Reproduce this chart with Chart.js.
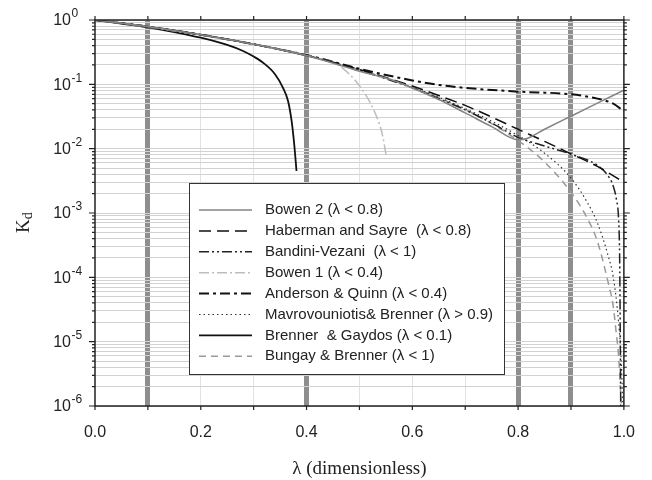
<!DOCTYPE html>
<html>
<head>
<meta charset="utf-8">
<script src="https://cdn.jsdelivr.net/npm/chart.js@4"></script>
<style>
  html, body { margin: 0; padding: 0; background: #fff; }
  #wrap { width: 652px; height: 480px; }
</style>
</head>
<body>
<div id="wrap"><canvas id="kdChart" width="652" height="480"></canvas></div>
<script>
// values (lambda, Kd)
const bowen2X = [0, 0.1, 0.2, 0.3, 0.4, 0.5, 0.55, 0.6, 0.65, 0.7, 0.75, 0.8, 0.815, 0.85, 0.9, 0.95, 1.0];
const bowen2Y = [1, 0.79, 0.59, 0.42, 0.28, 0.16, 0.125, 0.088, 0.058, 0.036, 0.022, 0.0138, 0.0142, 0.02, 0.032, 0.051, 0.081];

const habermanX = [0, 0.1, 0.2, 0.3, 0.4, 0.5, 0.6, 0.65, 0.7, 0.75, 0.8, 0.85, 0.9, 0.95, 1.0];
const habermanY = [1, 0.79, 0.59, 0.42, 0.28, 0.17, 0.094, 0.067, 0.047, 0.031, 0.02, 0.013, 0.0083, 0.0053, 0.003];

const bandiniX = [0, 0.1, 0.2, 0.3, 0.4, 0.5, 0.6, 0.65, 0.7, 0.75, 0.8, 0.85, 0.9, 0.95, 0.97, 0.98, 0.986, 0.99, 0.992, 0.993, 0.994];
const bandiniY = [1, 0.79, 0.59, 0.42, 0.28, 0.165, 0.088, 0.06, 0.04, 0.025, 0.015, 0.011, 0.0082, 0.0055, 0.0038, 0.0026, 0.0016, 0.0008, 0.0002, 0.00002, 0.000001];

const bowen1X = [0, 0.1, 0.2, 0.3, 0.4, 0.43, 0.46, 0.5, 0.527, 0.543, 0.551];
const bowen1Y = [1, 0.78, 0.58, 0.42, 0.285, 0.245, 0.2, 0.095, 0.04, 0.017, 0.0075];

const andersonX = [0, 0.1, 0.2, 0.3, 0.4, 0.5, 0.55, 0.6, 0.65, 0.7, 0.8, 0.9, 0.95, 0.98, 1.0];
const andersonY = [1, 0.79, 0.59, 0.42, 0.285, 0.175, 0.14, 0.115, 0.098, 0.088, 0.077, 0.07, 0.06, 0.05, 0.038];

const mavroX = [0, 0.1, 0.2, 0.3, 0.4, 0.5, 0.6, 0.7, 0.8, 0.85, 0.9, 0.93, 0.95, 0.97, 0.98, 0.99, 0.995, 0.998];
const mavroY = [1, 0.79, 0.595, 0.42, 0.28, 0.168, 0.09, 0.042, 0.016, 0.0085, 0.0035, 0.0015, 0.0007, 0.00022, 0.0001, 0.00002, 0.000005, 0.000001];

const brennerX = [0, 0.05, 0.1, 0.15, 0.2, 0.25, 0.28, 0.3, 0.32, 0.34, 0.355, 0.365, 0.372, 0.377, 0.381];
const brennerY = [1, 0.88, 0.77, 0.65, 0.53, 0.41, 0.33, 0.27, 0.21, 0.145, 0.09, 0.055, 0.026, 0.011, 0.0045];

const bungayX = [0, 0.05, 0.1, 0.2, 0.3, 0.4, 0.5, 0.6, 0.7, 0.75, 0.8, 0.85, 0.9, 0.93, 0.95, 0.97, 0.98, 0.985, 0.99, 0.995];
const bungayY = [1, 0.89, 0.79, 0.595, 0.42, 0.278, 0.168, 0.09, 0.0405, 0.0245, 0.0134, 0.0062, 0.0021, 0.00085, 0.00036, 0.000085, 0.000035, 0.000015, 0.000006, 0.0000011];

const xTickLabels = ["0.0", "0.2", "0.4", "0.6", "0.8", "1.0"];
const yExponents = [0, -1, -2, -3, -4, -5, -6];
const thickLines = [0.1, 0.4, 0.8, 0.9];

function pts(xs, ys) {
  return xs.map((x, i) => ({ x: x, y: ys[i] }));
}

function series(label, xs, ys, color, width, dash) {
  return {
    label: label,
    data: pts(xs, ys),
    borderColor: color,
    borderWidth: width,
    borderDash: dash,
    pointRadius: 0,
    fill: false,
    cubicInterpolationMode: "monotone",
  };
}

const SANS = "'Liberation Sans', Arial, sans-serif";
const SERIF = "'Liberation Serif', 'Times New Roman', serif";

// legend box, axis labels with superscripts, tick marks, frame
const decorPlugin = {
  id: "decor",
  afterDraw(chart) {
    const ctx = chart.ctx;
    const area = chart.chartArea;
    const xs = chart.scales.x;
    const ys = chart.scales.y;
    ctx.save();

    // frame
    ctx.strokeStyle = "#222";
    ctx.lineWidth = 1.5;
    ctx.strokeRect(area.left, area.top, area.right - area.left, area.bottom - area.top);

    // x tick marks (bottom + top)
    ctx.lineWidth = 1.2;
    for (let i = 0; i <= 10; i++) {
      const px = xs.getPixelForValue(i / 10);
      ctx.beginPath();
      ctx.moveTo(px, area.bottom);
      ctx.lineTo(px, area.bottom + 4);
      ctx.moveTo(px, area.top);
      ctx.lineTo(px, area.top - 4);
      ctx.stroke();
    }

    // y tick marks (left + right)
    for (let k = -6; k <= 0; k++) {
      for (let m = 1; m <= 9; m++) {
        const v = m * Math.pow(10, k);
        if (v > 1) break;
        const py = ys.getPixelForValue(v);
        const len = m === 1 ? 6 : 3;
        ctx.beginPath();
        ctx.moveTo(area.left, py);
        ctx.lineTo(area.left - len, py);
        ctx.moveTo(area.right, py);
        ctx.lineTo(area.right + len, py);
        ctx.stroke();
      }
    }

    // y tick labels 10^n
    ctx.fillStyle = "#222";
    yExponents.forEach((e) => {
      const py = ys.getPixelForValue(Math.pow(10, e));
      ctx.font = "16px " + SANS;
      ctx.textAlign = "right";
      ctx.textBaseline = "middle";
      ctx.fillText("10", 71, py + 1);
      ctx.font = "12px " + SANS;
      ctx.textAlign = "left";
      ctx.fillText(String(e), 71.5, py - 6);
    });

    // axis titles
    ctx.font = "19px " + SERIF;
    ctx.textAlign = "center";
    ctx.textBaseline = "middle";
    ctx.fillText("\u03bb (dimensionless)", (area.left + area.right) / 2, 469);

    ctx.save();
    ctx.translate(22, 233);
    ctx.rotate(-Math.PI / 2);
    ctx.textAlign = "left";
    ctx.textBaseline = "alphabetic";
    ctx.font = "19px " + SERIF;
    ctx.fillText("K", 0, 7);
    const kw = ctx.measureText("K").width;
    ctx.font = "14px " + SERIF;
    ctx.fillText("d", kw, 10);
    ctx.restore();

    // legend box
    const bx = 189, by = 183, bw = 315, bh = 191;
    ctx.fillStyle = "#fff";
    ctx.fillRect(bx, by, bw, bh);
    ctx.strokeStyle = "#333";
    ctx.lineWidth = 1;
    ctx.strokeRect(bx + 0.5, by + 0.5, bw, bh);

    chart.data.datasets.forEach((ds, i) => {
      const ly = 210 + i * 20.9;
      ctx.strokeStyle = ds.borderColor;
      ctx.lineWidth = ds.borderWidth;
      ctx.setLineDash(ds.borderDash || []);
      ctx.beginPath();
      ctx.moveTo(199, ly);
      ctx.lineTo(252, ly);
      ctx.stroke();
      ctx.setLineDash([]);
      ctx.fillStyle = "#222";
      ctx.font = "15px " + SANS;
      ctx.textAlign = "left";
      ctx.textBaseline = "middle";
      ctx.fillText(ds.label, 265, ly);
    });

    ctx.restore();
  },
};

new Chart(document.getElementById("kdChart"), {
  type: "line",
  data: {
    datasets: [
      series("Bowen 2 (\u03bb < 0.8)", bowen2X, bowen2Y, "#858585", 1.6, []),
      series("Haberman and Sayre  (\u03bb < 0.8)", habermanX, habermanY, "#111", 1.5, [12, 6]),
      series("Bandini-Vezani  (\u03bb < 1)", bandiniX, bandiniY, "#222", 1.5, [10, 3, 2, 3, 2, 3]),
      series("Bowen 1 (\u03bb < 0.4)", bowen1X, bowen1Y, "#bdbdbd", 1.5, [10, 3, 2, 3]),
      series("Anderson & Quinn (\u03bb < 0.4)", andersonX, andersonY, "#111", 2, [10, 4, 3, 4]),
      series("Mavrovouniotis& Brenner (\u03bb > 0.9)", mavroX, mavroY, "#333", 1.2, [1.5, 3]),
      series("Brenner  & Gaydos (\u03bb < 0.1)", brennerX, brennerY, "#111", 1.8, []),
      series("Bungay & Brenner (\u03bb < 1)", bungayX, bungayY, "#9a9a9a", 1.5, [7, 5]),
    ],
  },
  options: {
    responsive: false,
    animation: false,
    layout: { padding: { top: 20, right: 23, left: 0, bottom: 0 } },
    plugins: {
      legend: { display: false },
      tooltip: { enabled: false },
    },
    scales: {
      x: {
        type: "linear",
        min: 0,
        max: 1,
        afterFit: function (scale) {
          scale.height = 74;
        },
        ticks: {
          stepSize: 0.1,
          autoSkip: false,
          maxRotation: 0,
          padding: 17,
          color: "#222",
          font: { size: 16, family: SANS },
          callback: function (value) {
            const t = Math.round(value * 10);
            return t % 2 === 0 ? xTickLabels[t / 2] : "";
          },
        },
        grid: {
          drawTicks: false,
          color: function (c) {
            const v = Math.round(c.tick.value * 10) / 10;
            if (v === 0 || v === 1) return "rgba(0,0,0,0)";
            return thickLines.includes(v) ? "#8e8e8e" : "#e2e2e2";
          },
          lineWidth: function (c) {
            const v = Math.round(c.tick.value * 10) / 10;
            return thickLines.includes(v) ? 5 : 1;
          },
        },
        border: { display: false },
      },
      y: {
        type: "logarithmic",
        min: 1e-6,
        max: 1,
        afterFit: function (scale) {
          scale.width = 95;
        },
        afterBuildTicks: function (scale) {
          const t = [];
          for (let k = -6; k <= 0; k++) {
            for (let m = 1; m <= 9; m++) {
              const v = m * Math.pow(10, k);
              if (v <= 1) t.push({ value: v });
            }
          }
          scale.ticks = t;
        },
        ticks: { display: false },
        grid: {
          drawTicks: false,
          color: "#d2d2d2",
          lineWidth: 1,
        },
        border: { display: false },
      },
    },
  },
  plugins: [decorPlugin],
});
</script>
</body>
</html>
